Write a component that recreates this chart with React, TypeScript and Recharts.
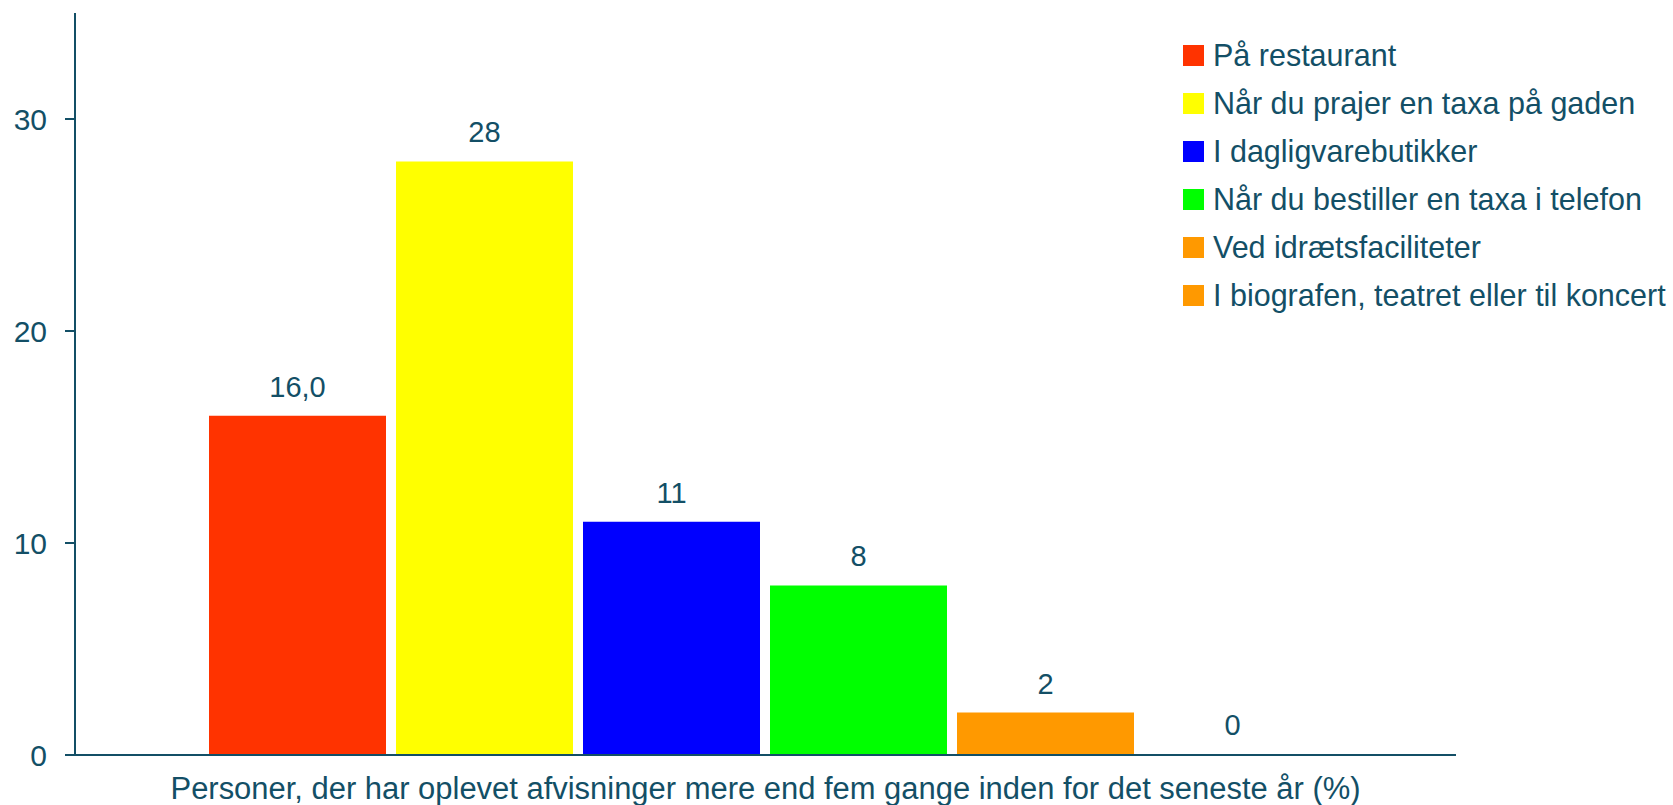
import React from 'react';
import { BarChart, Bar, XAxis, YAxis, Legend, LabelList } from 'recharts';

const CATEGORY = 'Personer, der har oplevet afvisninger mere end fem gange inden for det seneste år (%)';

const SERIES_NAMES = [
  'På restaurant',
  'Når du prajer en taxa på gaden',
  'I dagligvarebutikker',
  'Når du bestiller en taxa i telefon',
  'Ved idrætsfaciliteter',
  'I biografen, teatret eller til koncert',
];
const SERIES_VALUES = [16, 28, 11, 8, 2, 0];
const SERIES_LABELS = ['16,0', '28', '11', '8', '2', '0'];
const SERIES_COLORS = ['#FF3300', '#FFFF00', '#0000FF', '#00FF00', '#FF9900', '#FF9900'];
const Y_TICKS = [0, 10, 20, 30];

const TEXT = '#134F66';
const FONT = '"Liberation Sans", Arial, sans-serif';

const row: Record<string, string | number> = { name: CATEGORY };
SERIES_VALUES.forEach((v, i) => {
  row[`s${i}`] = v;
});
const data = [row];

// x-axis category text, squeezed a bit like the original
const CategoryTick = ({ x, y, payload }: any) => (
  <text
    x={x}
    y={y + 36}
    textAnchor="middle"
    fontSize={31}
    fontFamily={FONT}
    fill={TEXT}
    textLength={1190}
    lengthAdjust="spacingAndGlyphs"
  >
    {payload.value}
  </text>
);

const renderLegend = () => (
  <div>
    {SERIES_NAMES.map((name, i) => (
      <div key={name} style={{ display: 'flex', alignItems: 'center', height: 48 }}>
        <span style={{ width: 21, height: 21, background: SERIES_COLORS[i], marginRight: 9, flexShrink: 0 }} />
        <span style={{ fontSize: 30.5, color: TEXT, fontFamily: FONT, whiteSpace: 'nowrap' }}>{name}</span>
      </div>
    ))}
  </div>
);

export default function App() {
  return (
    <div style={{ width: 1673, height: 805, background: '#fff' }}>
      <style>{'body{margin:0}'}</style>
      <BarChart
        width={1673}
        height={805}
        data={data}
        margin={{ top: 13, right: 217, left: 0, bottom: 0 }}
        barCategoryGap={134}
        barGap={10}
      >
        <XAxis
          dataKey="name"
          height={50}
          tickLine={false}
          axisLine={{ stroke: TEXT, strokeWidth: 2 }}
          tick={<CategoryTick />}
          interval={0}
        />
        <YAxis
          width={75}
          domain={[0, 35]}
          ticks={Y_TICKS}
          tickSize={10}
          tickMargin={18}
          axisLine={{ stroke: TEXT, strokeWidth: 2 }}
          tickLine={{ stroke: TEXT, strokeWidth: 2 }}
          tick={{ fontSize: 30, fill: TEXT, fontFamily: FONT }}
        />
        <Legend
          layout="horizontal"
          verticalAlign="middle"
          align="center"
          content={renderLegend}
          wrapperStyle={{ top: 31, left: 1183, width: 490, height: 300 }}
        />
        {SERIES_NAMES.map((name, i) => (
          <Bar
            key={name}
            dataKey={`s${i}`}
            name={name}
            fill={SERIES_COLORS[i]}
            minPointSize={1}
            isAnimationActive={false}
          >
            <LabelList
              dataKey={`s${i}`}
              position="top"
              offset={19}
              formatter={() => SERIES_LABELS[i]}
              fontSize={29}
              fontFamily={FONT}
              fill={TEXT}
            />
          </Bar>
        ))}
      </BarChart>
    </div>
  );
}
